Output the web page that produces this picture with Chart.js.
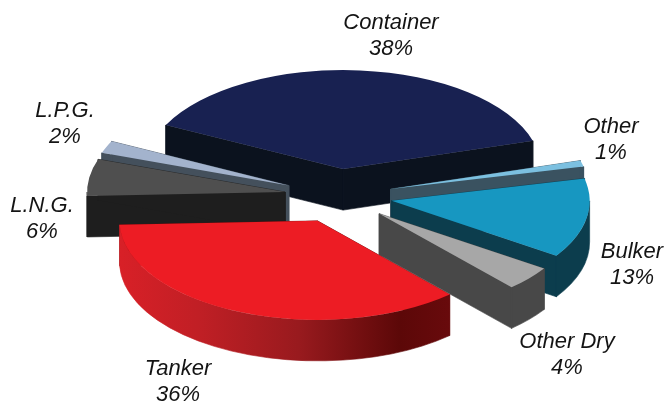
<!DOCTYPE html>
<html>
<head>
<meta charset="utf-8">
<style>
html,body{margin:0;padding:0;background:#fff}
#wrap{position:relative;width:665px;height:403px}
canvas{display:block}
</style>
<script src="https://cdn.jsdelivr.net/npm/chart.js@4"></script>
</head>
<body>
<div id="wrap"><canvas id="c" width="665" height="403"></canvas></div>
<script>
const categories = ['Container', 'Other', 'Bulker', 'Other Dry', 'Tanker', 'L.N.G.', 'L.P.G.'];
const shares = [38, 1, 13, 4, 36, 6, 2];

const topColors = ['#182151', '#7cc0e0', '#1797c1', '#a7a7a7', '#ed1c24', '#4f4f4f', '#a3b3cd'];
const faceColors = ['#0b121e', '#3a5260', '#0c3d4d', '#484848', '#650a0c', '#1e1e1e', '#44505c'];
const paintOrder = [0, 6, 5, 1, 2, 3, 4];
const labelCentres = [[391, 23], [611, 127], [632, 252], [567, 342], [178, 369], [42, 206], [65, 111]];

const TILT = 0.5, DEPTH = 41, EXPLODE = 54, CENTRE_Y = 196, TANKER = 4;

const pie3d = {
  id: 'pie3d',
  beforeDatasetsDraw(chart) {
    const ctx = chart.ctx;
    const arcs = chart.getDatasetMeta(0).data;
    paintOrder.forEach(i => {
      const a = arcs[i];
      const mid = (a.startAngle + a.endAngle) / 2;
      const ox = a.x + EXPLODE * Math.cos(mid);
      const oy = CENTRE_Y + EXPLODE * TILT * Math.sin(mid);
      const R = a.outerRadius, r = R * TILT;
      const pt = t => [ox + R * Math.cos(t), oy + r * Math.sin(t)];
      const p1 = pt(a.startAngle), p2 = pt(a.endAngle);
      ctx.save();
      ctx.fillStyle = faceColors[i];
      ctx.strokeStyle = faceColors[i];
      ctx.lineWidth = 0.6;
      ctx.lineJoin = 'round';
      [p1, p2].forEach(p => {
        ctx.beginPath();
        ctx.moveTo(ox, oy);
        ctx.lineTo(p[0], p[1]);
        ctx.lineTo(p[0], p[1] + DEPTH);
        ctx.lineTo(ox, oy + DEPTH);
        ctx.closePath();
        ctx.fill();
        ctx.stroke();
      });
      let wall = faceColors[i];
      if (i === TANKER) {
        const g = ctx.createLinearGradient(117, 0, 449, 0);
        g.addColorStop(0, '#d92027');
        g.addColorStop(0.25, '#c01f25');
        g.addColorStop(0.55, '#981a1e');
        g.addColorStop(0.85, '#5c0808');
        g.addColorStop(1, '#680a0c');
        wall = g;
      }
      ctx.fillStyle = wall;
      ctx.strokeStyle = wall;
      for (let s = -1; s <= 1; s++) {
        const lo = Math.max(a.startAngle, 2 * Math.PI * s);
        const hi = Math.min(a.endAngle, 2 * Math.PI * s + Math.PI);
        if (hi <= lo) continue;
        ctx.beginPath();
        ctx.ellipse(ox, oy, R, r, 0, lo, hi);
        ctx.ellipse(ox, oy + DEPTH, R, r, 0, hi, lo, true);
        ctx.closePath();
        ctx.fill();
        ctx.stroke();
      }
      if (i !== TANKER) {
        ctx.strokeStyle = faceColors[i];
        ctx.lineWidth = 1.2;
        [[ox, oy], p1, p2].forEach(p => {
          ctx.beginPath();
          ctx.moveTo(p[0], p[1]);
          ctx.lineTo(p[0], p[1] + DEPTH);
          ctx.stroke();
        });
      }
      ctx.translate(ox, oy);
      ctx.scale(1, TILT);
      ctx.translate(-a.x, -a.y);
      a.draw(ctx);
      ctx.restore();
    });
    return false;
  },
  afterDraw(chart) {
    const ctx = chart.ctx;
    ctx.save();
    ctx.font = 'italic 22px "Liberation Sans", Arial, sans-serif';
    ctx.fillStyle = '#141414';
    ctx.textAlign = 'center';
    ctx.textBaseline = 'middle';
    categories.forEach((name, i) => {
      const [x, y] = labelCentres[i];
      ctx.fillText(name, x, y);
      ctx.fillText(shares[i] + '%', x, y + 26);
    });
    ctx.restore();
  }
};

new Chart(document.getElementById('c'), {
  type: 'pie',
  data: {
    labels: categories,
    datasets: [{
      data: shares,
      backgroundColor: topColors,
      borderWidth: 0
    }]
  },
  options: {
    responsive: false,
    animation: false,
    rotation: -63.5,
    radius: 198,
    layout: { padding: { left: 12 } },
    plugins: { legend: { display: false }, tooltip: { enabled: false } }
  },
  plugins: [pie3d]
});
</script>
</body>
</html>
